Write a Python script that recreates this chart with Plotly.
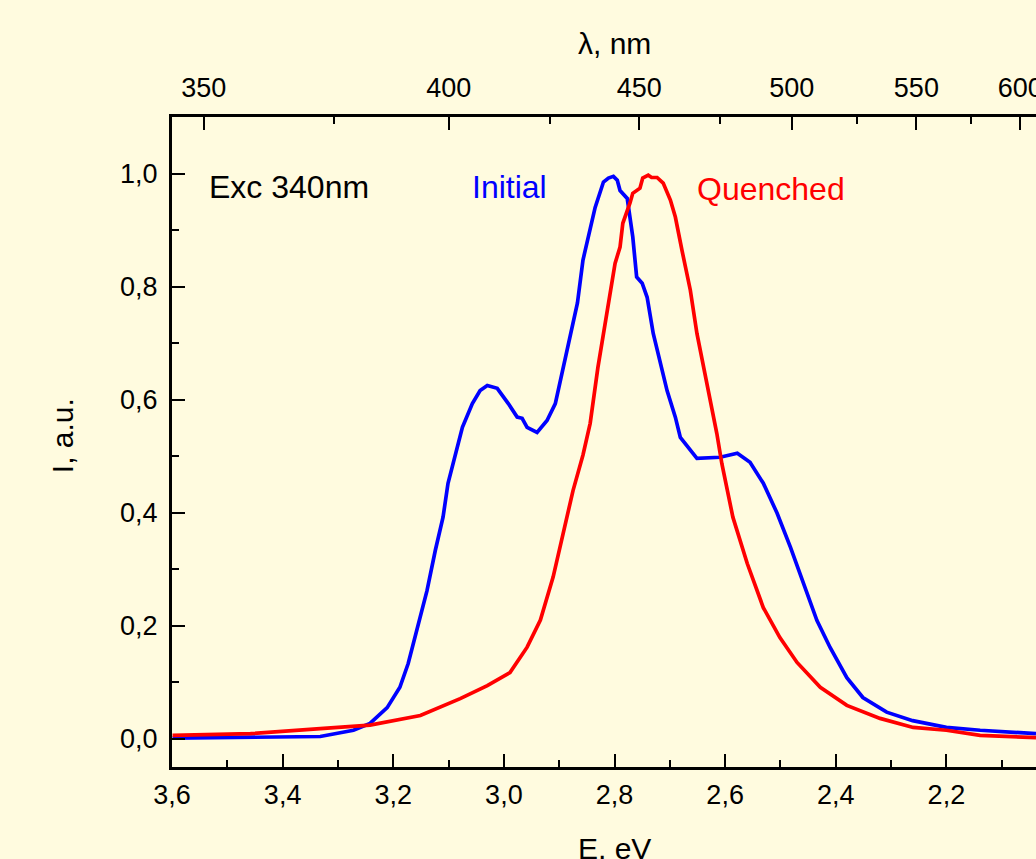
import plotly.graph_objects as go

# ---- data ----
E_initial = [3.599, 3.458, 3.332, 3.272, 3.242, 3.211, 3.188, 3.173, 3.157, 3.139,
             3.124, 3.110, 3.101, 3.085, 3.075, 3.057, 3.043, 3.030, 3.012, 2.992,
             2.976, 2.967, 2.958, 2.940, 2.922, 2.907, 2.893, 2.880, 2.867, 2.857,
             2.844, 2.835, 2.820, 2.811, 2.802, 2.795, 2.790, 2.777, 2.767, 2.760,
             2.750, 2.741, 2.730, 2.718, 2.705, 2.690, 2.681, 2.651, 2.609, 2.578,
             2.555, 2.531, 2.506, 2.482, 2.459, 2.434, 2.410, 2.380, 2.351, 2.308,
             2.261, 2.200, 2.139, 2.038]
I_initial = [0.001, 0.002, 0.004, 0.015, 0.027, 0.055, 0.091, 0.133, 0.192, 0.262,
             0.333, 0.392, 0.452, 0.510, 0.551, 0.593, 0.616, 0.625, 0.620, 0.593,
             0.569, 0.567, 0.551, 0.542, 0.563, 0.593, 0.657, 0.710, 0.771, 0.847,
             0.900, 0.940, 0.985, 0.992, 0.995, 0.988, 0.970, 0.956, 0.888, 0.817,
             0.806, 0.781, 0.717, 0.670, 0.616, 0.569, 0.533, 0.496, 0.498, 0.505,
             0.489, 0.452, 0.399, 0.339, 0.275, 0.209, 0.161, 0.108, 0.073, 0.047,
             0.032, 0.020, 0.015, 0.009]

E_quenched = [3.599, 3.458, 3.332, 3.242, 3.151, 3.079, 3.030, 2.989, 2.958, 2.934,
              2.911, 2.893, 2.875, 2.857, 2.844, 2.830, 2.817, 2.804, 2.799, 2.790,
              2.785, 2.772, 2.767, 2.754, 2.749, 2.739, 2.733, 2.723, 2.712, 2.699,
              2.690, 2.678, 2.669, 2.663, 2.651, 2.640, 2.627, 2.615, 2.606, 2.586,
              2.560, 2.531, 2.501, 2.470, 2.428, 2.380, 2.320, 2.260, 2.200, 2.139,
              2.038]
I_quenched = [0.006, 0.009, 0.018, 0.024, 0.041, 0.071, 0.094, 0.117, 0.162, 0.210,
              0.286, 0.363, 0.439, 0.502, 0.558, 0.657, 0.735, 0.806, 0.841, 0.870,
              0.912, 0.948, 0.965, 0.974, 0.992, 0.997, 0.993, 0.993, 0.983, 0.953,
              0.923, 0.864, 0.817, 0.794, 0.717, 0.664, 0.604, 0.540, 0.487, 0.392,
              0.310, 0.232, 0.179, 0.135, 0.091, 0.059, 0.036, 0.020, 0.015, 0.006,
              0.002]

E_ticks = [3.6, 3.4, 3.2, 3.0, 2.8, 2.6, 2.4, 2.2]
E_minor = [3.5, 3.3, 3.1, 2.9, 2.7, 2.5, 2.3, 2.1]
I_ticks = [0.0, 0.2, 0.4, 0.6, 0.8, 1.0]
I_minor = [0.1, 0.3, 0.5, 0.7, 0.9]
wl_ticks = [350, 400, 450, 500, 550, 600]
wl_minor = [375, 425, 475, 525, 575]
HC = 1239.84  # eV*nm, photon energy conversion

def comma(v):
    return f"{v:.1f}".replace(".", ",")

BG = "#FFFBDF"
FONT = "Liberation Sans, Arial, sans-serif"
E_range = [3.6, 2.038]
I_range = [-0.05, 1.1]

fig = go.Figure()
fig.add_trace(go.Scatter(x=E_initial, y=I_initial, mode="lines", name="Initial",
                         line=dict(color="#0000FF", width=3.7), showlegend=False))
fig.add_trace(go.Scatter(x=E_quenched, y=I_quenched, mode="lines", name="Quenched",
                         line=dict(color="#FF0000", width=3.7), showlegend=False))
# invisible trace to carry the top wavelength axis
fig.add_trace(go.Scatter(x=E_initial, y=I_initial, xaxis="x2", mode="lines",
                         line=dict(width=0), opacity=0, showlegend=False, hoverinfo="skip"))

axis_common = dict(showline=True, linecolor="black", linewidth=3, showgrid=False,
                   zeroline=False, ticks="inside", ticklen=13, tickwidth=2,
                   tickcolor="black", automargin=False,
                   tickfont=dict(family=FONT, size=27, color="black"))

fig.update_layout(
    width=1036, height=859,
    margin=dict(l=172, r=0, t=117, b=92, autoexpand=False),
    paper_bgcolor=BG, plot_bgcolor=BG,
    font=dict(family=FONT, color="black"),
    xaxis=dict(range=E_range, tickmode="array", tickvals=E_ticks,
               ticktext=[comma(v) for v in E_ticks],
               minor=dict(tickmode="array", tickvals=E_minor, ticks="inside",
                          ticklen=7, tickwidth=2, tickcolor="black"),
               ticklabelstandoff=2, **axis_common),
    xaxis2=dict(range=E_range, overlaying="x", side="top", anchor="y",
                tickmode="array", tickvals=[HC / w for w in wl_ticks],
                ticktext=[str(w) for w in wl_ticks],
                minor=dict(tickmode="array", tickvals=[HC / w for w in wl_minor],
                           ticks="inside", ticklen=7, tickwidth=2, tickcolor="black"),
                ticklabelstandoff=6, ticklabeloverflow="allow", **axis_common),
    yaxis=dict(range=I_range, tickmode="array", tickvals=I_ticks,
               ticktext=[comma(v) for v in I_ticks],
               minor=dict(tickmode="array", tickvals=I_minor, ticks="inside",
                          ticklen=7, tickwidth=2, tickcolor="black"),
               ticklabelstandoff=6, **axis_common),
)

ann_font = dict(family=FONT, size=32)
fig.add_annotation(x=3.536, y=0.976, xref="x", yref="y", text="Exc 340nm",
                   showarrow=False, xanchor="left", yanchor="middle",
                   font=dict(**ann_font, color="black"))
fig.add_annotation(x=3.062, y=0.977, xref="x", yref="y", text="Initial",
                   showarrow=False, xanchor="left", yanchor="middle",
                   font=dict(**ann_font, color="#0000FF"))
fig.add_annotation(x=2.654, y=0.972, xref="x", yref="y", text="Quenched",
                   showarrow=False, xanchor="left", yanchor="middle",
                   font=dict(**ann_font, color="#FF0000"))

title_font = dict(family=FONT, size=30, color="black")
fig.add_annotation(x=0.5116, y=0, xref="paper", yref="paper", text="E, eV",
                   showarrow=False, xanchor="center", yanchor="middle",
                   yshift=-81, font=title_font)
fig.add_annotation(x=0.5116, y=1, xref="paper", yref="paper", text="λ, nm",
                   showarrow=False, xanchor="center", yanchor="middle",
                   yshift=74, font=title_font)
fig.add_annotation(x=0, y=0.509, xref="paper", yref="paper", text="I, a.u.",
                   showarrow=False, xanchor="center", yanchor="middle",
                   xshift=-110, textangle=-90, font=title_font)

fig.write_html("out.html",
               config={"displayModeBar": False},
               post_script="document.body.style.margin='0';document.body.style.overflow='hidden';")
